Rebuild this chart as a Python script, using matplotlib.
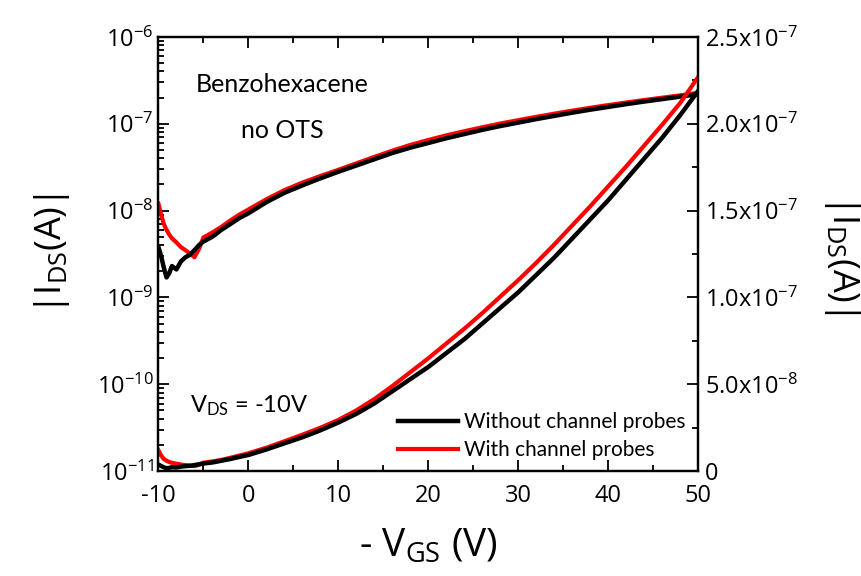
import matplotlib
matplotlib.use("Agg")
import matplotlib.pyplot as plt
from matplotlib.ticker import FixedLocator, FuncFormatter, LogLocator, NullFormatter

plt.rcParams['font.family'] = ['Open Sans', 'DejaVu Sans']
plt.rcParams['mathtext.fontset'] = 'custom'
plt.rcParams['mathtext.rm'] = 'Open Sans'
plt.rcParams['mathtext.default'] = 'regular'
plt.rcParams['axes.unicode_minus'] = False

# ----------------------------------
# data
# ----------------------------------
vgs = [-10, -9.7, -9.4, -9.1, -8.8, -8.5, -8, -7.5, -7, -6.5, -6, -5.5, -5, -4, -3, -2, -1,
       0, 2, 4, 6, 8, 10, 12, 14, 16, 18, 20, 22, 24, 26, 28, 30, 32, 34, 36, 38,
       40, 42, 44, 46, 48, 50]

ids_without = [3.8e-9, 3.0e-9, 2.2e-9, 1.7e-9, 1.9e-9, 2.3e-9, 2.1e-9, 2.6e-9, 2.9e-9, 3.1e-9,
               3.5e-9, 4.0e-9, 4.4e-9, 5.0e-9, 6.0e-9, 7.0e-9, 8.2e-9,
               9.3e-9, 1.25e-8, 1.6e-8, 1.95e-8, 2.35e-8, 2.8e-8, 3.3e-8, 3.9e-8, 4.6e-8,
               5.3e-8, 6.0e-8, 6.8e-8, 7.6e-8, 8.5e-8, 9.4e-8, 1.03e-7, 1.13e-7, 1.23e-7,
               1.34e-7, 1.45e-7, 1.56e-7, 1.68e-7, 1.80e-7, 1.92e-7, 2.05e-7, 2.19e-7]

ids_with = [1.2e-8, 9.0e-9, 7.0e-9, 6.0e-9, 5.3e-9, 4.8e-9, 4.3e-9, 3.8e-9, 3.5e-9, 3.2e-9,
            2.9e-9, 3.6e-9, 4.9e-9, 5.6e-9, 6.5e-9, 7.7e-9, 9.0e-9,
            1.03e-8, 1.35e-8, 1.72e-8, 2.1e-8, 2.5e-8, 2.95e-8, 3.5e-8, 4.15e-8, 4.9e-8,
            5.7e-8, 6.5e-8, 7.35e-8, 8.2e-8, 9.1e-8, 1.005e-7, 1.1e-7, 1.2e-7, 1.305e-7,
            1.415e-7, 1.525e-7, 1.64e-7, 1.755e-7, 1.875e-7, 1.995e-7, 2.12e-7, 2.27e-7]

x_ticks = [-10, 0, 10, 20, 30, 40, 50]
right_ticks = [0, 5e-8, 1e-7, 1.5e-7, 2e-7, 2.5e-7]
right_labels = ['0', '5.0x10$^{-8}$', '1.0x10$^{-7}$', '1.5x10$^{-7}$',
                '2.0x10$^{-7}$', '2.5x10$^{-7}$']

# ----------------------------------
# figure
# ----------------------------------
fig = plt.figure(figsize=(8.61, 5.76), dpi=100)
ax = fig.add_axes([0.184, 0.182, 0.627, 0.754])
ax2 = ax.twinx()

# log scale (left)
ax.plot(vgs, ids_without, color='black', lw=3.2, zorder=3)
ax.plot(vgs, ids_with, color='#ff0000', lw=3.0, zorder=2)
ax.set_yscale('log')
ax.set_ylim(1e-11, 1e-6)
ax.set_xlim(-10, 50)

# linear scale (right)
ax2.plot(vgs, ids_without, color='black', lw=3.2, zorder=3, label='Without channel probes')
ax2.plot(vgs, ids_with, color='#ff0000', lw=3.0, zorder=2, label='With channel probes')
ax2.set_ylim(0, 2.5e-7)

# ticks
ax.xaxis.set_major_locator(FixedLocator(x_ticks))
ax.xaxis.set_minor_locator(FixedLocator(list(range(-5, 50, 10))))
ax.yaxis.set_major_locator(LogLocator(base=10, numticks=10))
ax.yaxis.set_minor_locator(LogLocator(base=10, subs=range(2, 10), numticks=20))
ax.yaxis.set_minor_formatter(NullFormatter())
ax.tick_params(which='both', direction='in', labelsize=17, width=1.3, top=True)
ax.tick_params(which='major', length=8)
ax.tick_params(which='minor', length=4.5)
ax.tick_params(axis='x', pad=9)

ax2.yaxis.set_major_locator(FixedLocator(right_ticks))
ax2.yaxis.set_minor_locator(FixedLocator([2.5e-8, 7.5e-8, 1.25e-7, 1.75e-7, 2.25e-7]))
ax2.yaxis.set_major_formatter(FuncFormatter(lambda v, p: right_labels[right_ticks.index(v)]
                                            if v in right_ticks else ''))
ax2.tick_params(which='both', direction='in', labelsize=17, width=1.3, pad=5)
ax2.tick_params(which='major', length=8)
ax2.tick_params(which='minor', length=4.5)

for a in (ax, ax2):
    for s in a.spines.values():
        s.set_linewidth(1.6)

# labels
ax.set_xlabel('- V$_{GS}$ (V)', fontsize=28, labelpad=14)
ax.set_ylabel('|I$_{DS}$(A)|', fontsize=26, labelpad=18)
ax2.set_ylabel('|I$_{DS}$(A)|', fontsize=26, rotation=270, labelpad=46)

ax.text(0.229, 0.89, 'Benzohexacene', transform=ax.transAxes, fontsize=18,
        family='Lato', ha='center', va='center')
ax.text(0.229, 0.785, 'no OTS', transform=ax.transAxes, fontsize=18,
        family='Lato', ha='center', va='center')
ax.text(0.059, 0.15, 'V$_{DS}$ = -10V', transform=ax.transAxes, fontsize=17,
        family='Lato', ha='left', va='center')

ax2.legend(loc='center left', bbox_to_anchor=(0.443, 0.081), frameon=False,
           prop={'family': 'Lato', 'size': 15}, handlelength=2.9, handletextpad=0.3,
           borderpad=0, borderaxespad=0, labelspacing=0.4)

fig.savefig('out.png', dpi=100)
